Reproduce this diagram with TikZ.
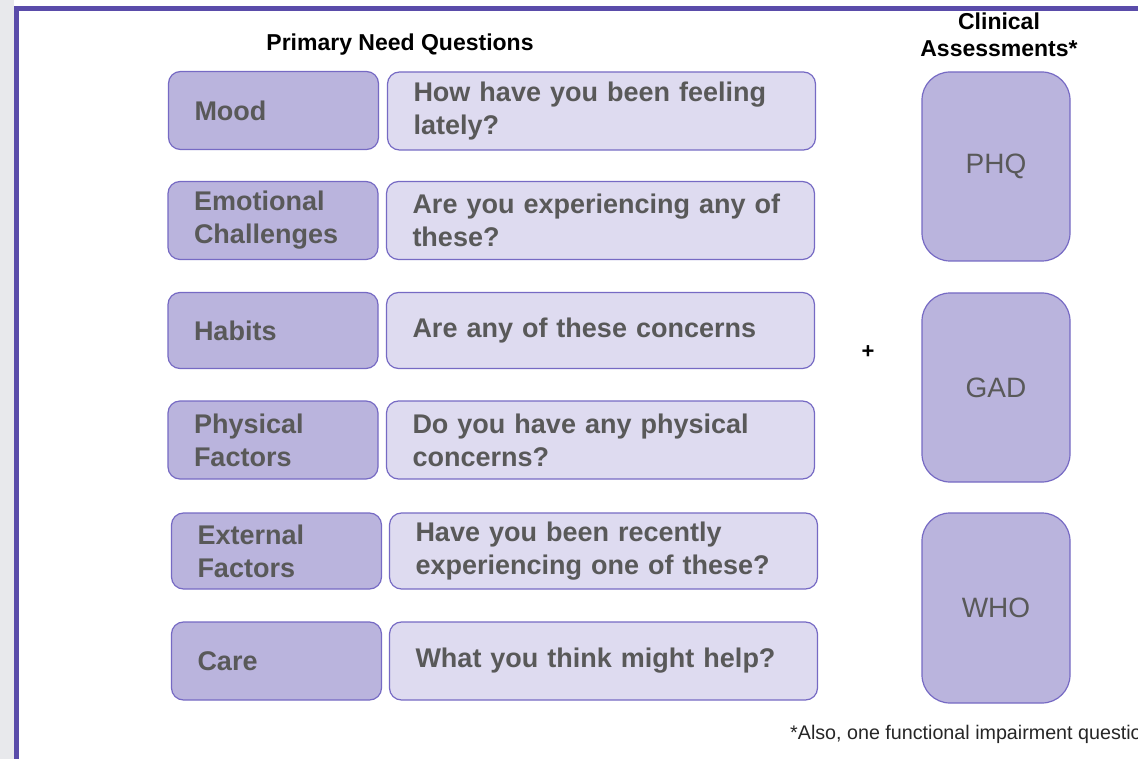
\documentclass[tikz,border=0pt]{standalone}
\usepackage{fontspec}
\setmainfont{Liberation Sans}
\usepackage{tikz}

\definecolor{framepurple}{RGB}{90,76,170}
\definecolor{edgepurple}{RGB}{118,106,196}
\definecolor{topicfill}{RGB}{186,180,221}
\definecolor{askfill}{RGB}{222,219,240}
\definecolor{boxtext}{RGB}{89,89,89}
\definecolor{sidegray}{RGB}{232,233,236}

\tikzset{
  topic/.style={fill=topicfill, draw=edgepurple, line width=1.2pt, rounded corners=12pt,
    minimum width=210pt, minimum height=78pt, text width=158pt, inner xsep=26pt, inner ysep=0pt,
    align=left, text=boxtext, font=\fontsize{27}{33}\selectfont\bfseries},
  ask/.style={topic, fill=askfill, minimum width=428pt, text width=376pt},
  scale box/.style={fill=topicfill, draw=edgepurple, line width=1.2pt, rounded corners=28pt,
    minimum width=148pt, minimum height=189pt, text=boxtext, font=\fontsize{28}{32}\selectfont},
  heading/.style={align=center, font=\fontsize{23}{27}\selectfont\bfseries}
}

\begin{document}
\begin{tikzpicture}[x=1pt, y=-1pt]
\useasboundingbox (0,0) rectangle (1138,759);
\fill [white] (0,0) rectangle (1138,759);
\fill [sidegray] (0,0) rectangle (14,759);
\draw [line width=5pt, framepurple] (16.5,759) -- (16.5,8.5) -- (1138,8.5);

\node (H-1) at (400,45) [heading]{Primary Need Questions};
\node (H-2) at (999,35) [heading]{Clinical\\Assessments*};

\node (R-1) at (273.5,110.5) [topic]{Mood};
\node (Q-1) at (601.5,111) [ask]{How have you been feeling\\lately?};

\node (R-2) at (273,220.5) [topic]{Emotional\\Challenges};
\node (Q-2) at (600.5,220.5) [ask]{Are you experiencing any of\\these?};

\node (R-3) at (273,330.5) [topic, minimum height=76pt]{Habits};
\node (Q-3) at (600.5,330.5) [ask, minimum height=76pt]{Are any of these concerns};

\node (R-4) at (273,440) [topic]{Physical\\Factors};
\node (Q-4) at (600.5,440) [ask]{Do you have any physical\\concerns?};

\node (R-5) at (276.5,551) [topic, minimum height=76pt]{External\\Factors};
\node (Q-5) at (603.5,551) [ask, minimum height=76pt]{Have you been recently\\experiencing one of these?};

\node (R-6) at (276.5,661) [topic]{Care};
\node (Q-6) at (603.5,661) [ask]{What you think might help?};

\node (P) at (868,352) [font=\fontsize{22}{24}\selectfont\bfseries]{+};

\node (C-1) at (996,166.5) [scale box]{PHQ};
\node (C-2) at (996,387.5) [scale box]{GAD};
\node (C-3) at (996,608) [scale box, minimum height=190pt]{WHO};

\node (N) at (790,734) [anchor=west, inner sep=0pt, text=black!85, font=\fontsize{19.7}{22}\selectfont]{*Also, one functional impairment question};

\end{tikzpicture}
\end{document}
